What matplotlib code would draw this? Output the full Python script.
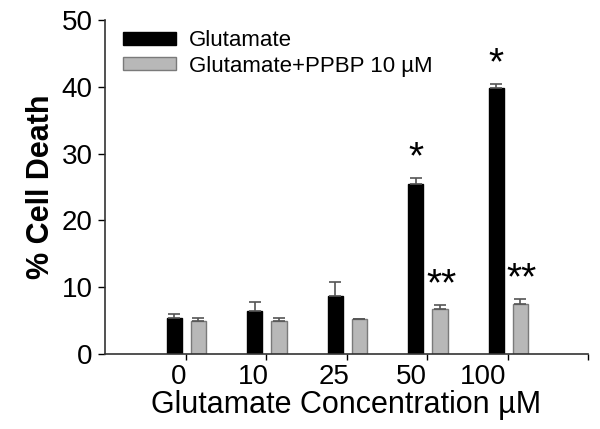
import numpy as np
import matplotlib
matplotlib.use('Agg')
import matplotlib.pyplot as plt

plt.rcParams['font.family'] = ['Liberation Sans', 'DejaVu Sans']

# data
concentrations = ['0', '10', '25', '50', '100']
glutamate = [5.4, 6.5, 8.7, 25.4, 39.8]
glutamate_err = [0.6, 1.3, 2.1, 1.0, 0.7]
ppbp = [5.0, 5.0, 5.2, 6.7, 7.5]
ppbp_err = [0.4, 0.4, 0.1, 0.7, 0.8]
glutamate_marks = ['', '', '', '*', '*']
ppbp_marks = ['', '', '', '**', '**']

x = np.arange(1, len(concentrations) + 1)
w = 0.19

fig = plt.figure(figsize=(6, 4.29), dpi=100)
ax = fig.add_axes([0.175, 0.175, 0.805, 0.778])

ax.bar(x - 0.14, glutamate, w, color='black', edgecolor='black',
       yerr=[np.zeros(len(x)), glutamate_err], ecolor='#555555',
       capsize=4, error_kw={'elinewidth': 1.2, 'capthick': 1.2},
       label='Glutamate')
ax.bar(x + 0.16, ppbp, w, color='#b8b8b8', edgecolor='#7a7a7a', linewidth=1,
       yerr=[np.zeros(len(x)), ppbp_err], ecolor='#555555',
       capsize=4, error_kw={'elinewidth': 1.2, 'capthick': 1.2},
       label='Glutamate+PPBP 10 µM')

# significance stars
for xi, v, e, m in zip(x, glutamate, glutamate_err, glutamate_marks):
    if m:
        ax.text(xi - 0.14, v + e + 0.2, m, ha='center', va='bottom', fontsize=28)
for xi, v, e, m in zip(x, ppbp, ppbp_err, ppbp_marks):
    if m:
        ax.text(xi + 0.18, v + e + 0.2, m, ha='center', va='bottom', fontsize=28)

ax.set_xlim(0, 6)
ax.set_ylim(0, 50)
ax.set_yticks(range(0, 51, 10))
ax.tick_params(axis='y', labelsize=20, length=5, width=1, direction='out', pad=4)

# tick marks at group centres, labels sit a bit left of them as in the original
ax.set_xticks(list(x) + [6], minor=True)
ax.set_xticks(x - np.array([0.09, 0.16, 0.16, 0.2, 0.3]))
ax.set_xticklabels(concentrations)
ax.tick_params(axis='x', which='major', length=0, labelsize=20, pad=7)
ax.tick_params(axis='x', which='minor', length=4, width=1, direction='out')

for s in ['top', 'right']:
    ax.spines[s].set_visible(False)
for s in ['left', 'bottom']:
    ax.spines[s].set_linewidth(1.2)
    ax.spines[s].set_color('#333333')

ax.set_ylabel('% Cell Death', fontsize=22, fontweight='bold', labelpad=4)
ax.set_xlabel('Glutamate Concentration µM', fontsize=22, labelpad=0)

ax.legend(loc='upper left', bbox_to_anchor=(-0.005, 1.03), frameon=False,
          fontsize=16, handlelength=2.4, handleheight=0.5,
          handletextpad=0.6, labelspacing=0.2)

fig.savefig('out.png', dpi=100)
